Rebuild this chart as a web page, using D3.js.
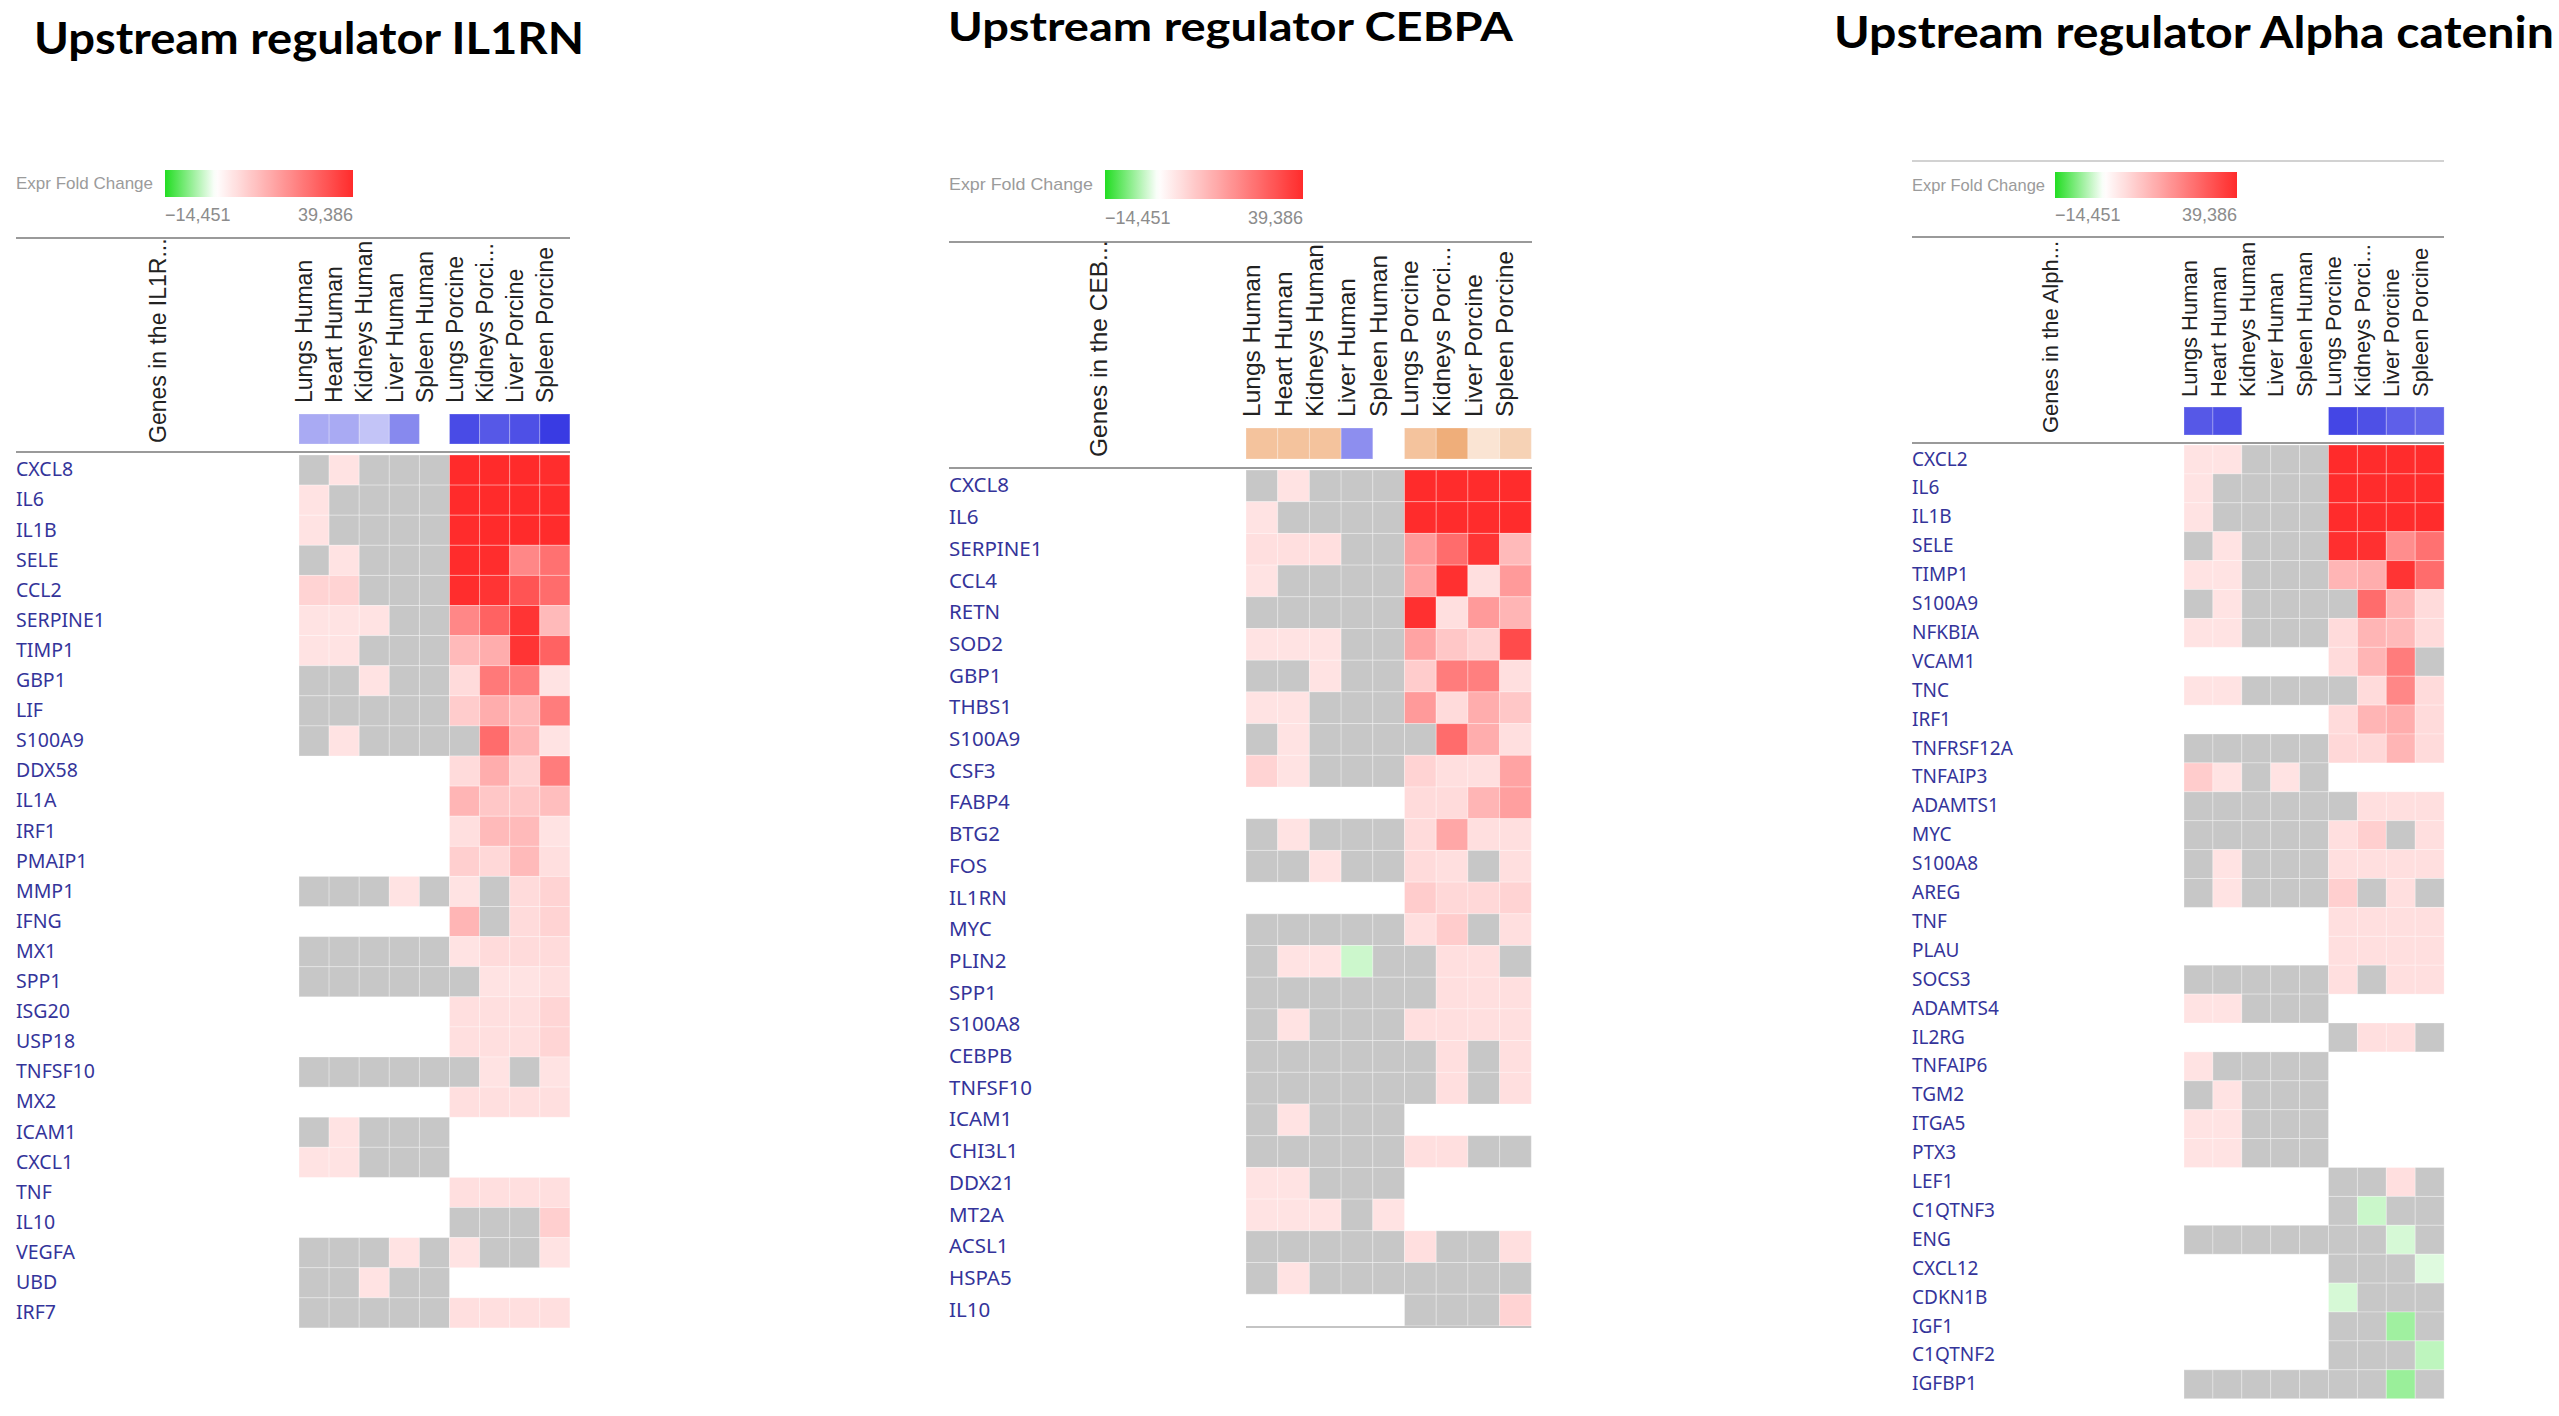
<!DOCTYPE html>
<html>
<head>
<meta charset="utf-8">
<script src="https://cdn.jsdelivr.net/npm/d3@7"></script>
<style>
  body { margin: 0; background: #fff; }
  svg { display: block; }
</style>
</head>
<body>
<svg id="chart" width="2559" height="1416"></svg>
<script>
// columns shared by the three heatmaps
const tissues = ["Lungs Human", "Heart Human", "Kidneys Human", "Liver Human", "Spleen Human",
  "Lungs Porcine", "Kidneys Porci...", "Liver Porcine", "Spleen Porcine"];

const foldMin = -14451, foldMax = 39386;
const n = null; // gene not in that dataset (blank); 0 = measured, no change (gray)

// --- Upstream regulator IL1RN ---
const il1rnGenes = ["CXCL8", "IL6", "IL1B", "SELE", "CCL2", "SERPINE1", "TIMP1", "GBP1", "LIF", "S100A9",
  "DDX58", "IL1A", "IRF1", "PMAIP1", "MMP1", "IFNG", "MX1", "SPP1", "ISG20", "USP18", "TNFSF10", "MX2",
  "ICAM1", "CXCL1", "TNF", "IL10", "VEGFA", "UBD", "IRF7"];
const il1rnValues = [
  [0, 3, 0, 0, 0, 39000, 39000, 39000, 36000],
  [3, 0, 0, 0, 0, 39000, 39000, 39000, 38000],
  [3, 0, 0, 0, 0, 38000, 39000, 39000, 37000],
  [0, 3, 0, 0, 0, 37000, 36000, 400, 1200],
  [8, 8, 0, 0, 0, 35000, 25000, 5000, 1500],
  [3, 3, 3, 0, 0, 400, 2500, 25000, 30],
  [3, 3, 0, 0, 0, 30, 60, 25000, 2500],
  [0, 0, 3, 0, 0, 5, 800, 700, 3],
  [0, 0, 0, 0, 0, 12, 60, 30, 700],
  [0, 3, 0, 0, 0, 0, 1500, 40, 3],
  [n, n, n, n, n, 5, 60, 8, 700],
  [n, n, n, n, n, 40, 15, 15, 25],
  [n, n, n, n, n, 4, 30, 30, 3],
  [n, n, n, n, n, 10, 6, 30, 4],
  [0, 0, 0, 3, 0, 3, 0, 5, 8],
  [n, n, n, n, n, 40, 0, 5, 8],
  [0, 0, 0, 0, 0, 3, 5, 5, 5],
  [0, 0, 0, 0, 0, 0, 3, 3, 4],
  [n, n, n, n, n, 4, 4, 4, 7],
  [n, n, n, n, n, 4, 4, 4, 7],
  [0, 0, 0, 0, 0, 0, 3, 0, 3],
  [n, n, n, n, n, 4, 4, 4, 4],
  [0, 3, 0, 0, 0, n, n, n, n],
  [3, 3, 0, 0, 0, n, n, n, n],
  [n, n, n, n, n, 4, 4, 4, 4],
  [n, n, n, n, n, 0, 0, 0, 10],
  [0, 0, 0, 3, 0, 3, 0, 0, 3],
  [0, 0, 3, 0, 0, n, n, n, n],
  [0, 0, 0, 0, 0, 4, 4, 4, 4]
];
const il1rnZ = [-1.65, -1.65, -1.15, -2.3, n, -3.5, -3.25, -3.4, -3.8];

// --- Upstream regulator CEBPA ---
const cebpaGenes = ["CXCL8", "IL6", "SERPINE1", "CCL4", "RETN", "SOD2", "GBP1", "THBS1", "S100A9", "CSF3",
  "FABP4", "BTG2", "FOS", "IL1RN", "MYC", "PLIN2", "SPP1", "S100A8", "CEBPB", "TNFSF10", "ICAM1", "CHI3L1",
  "DDX21", "MT2A", "ACSL1", "HSPA5", "IL10"];
const cebpaValues = [
  [0, 3, 0, 0, 0, 39000, 38000, 38000, 37000],
  [3, 0, 0, 0, 0, 38000, 38000, 38000, 37000],
  [4, 4, 4, 0, 0, 150, 1500, 25000, 30],
  [3, 0, 0, 0, 0, 100, 30000, 4, 150],
  [0, 0, 0, 0, 0, 30000, 4, 150, 40],
  [3, 3, 3, 0, 0, 100, 15, 8, 8000],
  [0, 0, 3, 0, 0, 12, 700, 600, 4],
  [3, 3, 0, 0, 0, 150, 5, 60, 15],
  [0, 3, 0, 0, 0, 0, 1500, 60, 4],
  [8, 3, 0, 0, 0, 8, 4, 4, 100],
  [n, n, n, n, n, 5, 5, 40, 120],
  [0, 3, 0, 0, 0, 5, 80, 4, 4],
  [0, 0, 3, 0, 0, 5, 4, 0, 4],
  [n, n, n, n, n, 12, 6, 6, 8],
  [0, 0, 0, 0, 0, 4, 12, 0, 4],
  [0, 3, 3, -8, 0, 0, 4, 4, 0],
  [0, 0, 0, 0, 0, 0, 4, 4, 4],
  [0, 3, 0, 0, 0, 4, 4, 4, 4],
  [0, 0, 0, 0, 0, 0, 4, 0, 4],
  [0, 0, 0, 0, 0, 0, 4, 0, 4],
  [0, 3, 0, 0, 0, n, n, n, n],
  [0, 0, 0, 0, 0, 4, 4, 0, 0],
  [3, 3, 0, 0, 0, n, n, n, n],
  [3, 3, 3, 0, 3, n, n, n, n],
  [0, 0, 0, 0, 0, 4, 0, 0, 4],
  [0, 3, 0, 0, 0, 0, 0, 0, 0],
  [n, n, n, n, n, 0, 0, 0, 8]
];
const cebpaZ = [2.0, 2.0, 2.0, -2.2, n, 2.0, 2.7, 0.9, 1.5];

// --- Upstream regulator Alpha catenin ---
const catGenes = ["CXCL2", "IL6", "IL1B", "SELE", "TIMP1", "S100A9", "NFKBIA", "VCAM1", "TNC", "IRF1",
  "TNFRSF12A", "TNFAIP3", "ADAMTS1", "MYC", "S100A8", "AREG", "TNF", "PLAU", "SOCS3", "ADAMTS4", "IL2RG",
  "TNFAIP6", "TGM2", "ITGA5", "PTX3", "LEF1", "C1QTNF3", "ENG", "CXCL12", "CDKN1B", "IGF1", "C1QTNF2", "IGFBP1"];
const catValues = [
  [3, 3, 0, 0, 0, 39000, 38000, 38000, 38000],
  [3, 0, 0, 0, 0, 38000, 38000, 38000, 37000],
  [3, 0, 0, 0, 0, 38000, 38000, 38000, 37000],
  [0, 3, 0, 0, 0, 32000, 30000, 300, 1200],
  [3, 3, 0, 0, 0, 40, 60, 25000, 1500],
  [0, 3, 0, 0, 0, 0, 1500, 40, 5],
  [3, 3, 0, 0, 0, 5, 40, 30, 5],
  [n, n, n, n, n, 5, 40, 700, 0],
  [3, 3, 0, 0, 0, 0, 5, 400, 5],
  [n, n, n, n, n, 5, 40, 60, 5],
  [0, 0, 0, 0, 0, 6, 6, 40, 5],
  [12, 3, 0, 3, 0, n, n, n, n],
  [0, 0, 0, 0, 0, 0, 4, 4, 4],
  [0, 0, 0, 0, 0, 4, 10, 0, 4],
  [0, 3, 0, 0, 0, 4, 4, 4, 4],
  [0, 3, 0, 0, 0, 10, 0, 4, 0],
  [n, n, n, n, n, 4, 4, 4, 4],
  [n, n, n, n, n, 4, 4, 4, 4],
  [0, 0, 0, 0, 0, 4, 0, 4, 4],
  [3, 3, 0, 0, 0, n, n, n, n],
  [n, n, n, n, n, 0, 4, 4, 0],
  [3, 0, 0, 0, 0, n, n, n, n],
  [0, 3, 0, 0, 0, n, n, n, n],
  [3, 3, 0, 0, 0, n, n, n, n],
  [3, 3, 0, 0, 0, n, n, n, n],
  [n, n, n, n, n, 0, 0, 4, 0],
  [n, n, n, n, n, 0, -9, 0, 0],
  [0, 0, 0, 0, 0, 0, 0, -5, 0],
  [n, n, n, n, n, 0, 0, 0, -3],
  [n, n, n, n, n, -5, 0, 0, 0],
  [n, n, n, n, n, 0, 0, -60, 0],
  [n, n, n, n, n, 0, 0, 0, -16],
  [0, 0, 0, 0, 0, 0, 0, -80, 0]
];
const catZ = [-3.25, -3.4, n, n, n, -3.6, -3.4, -3.1, -3.0];

// colours
const GREEN = "#22dd22", RED = "#ff2b2b", GRAY = "#c7c7c7";
const foldColor = d3.scaleSymlog().domain([foldMin, 0, foldMax]).range([GREEN, "#ffffff", RED]).clamp(true);
const legendColor = d3.scaleLinear().domain([foldMin, 0, foldMax]).range([GREEN, "#ffffff", RED]);
const zColor = d3.scaleLinear().domain([-4, 0, 4]).range(["#2f31e2", "#ffffff", "#e8873a"]).clamp(true);

const panels = [
  { title: "Upstream regulator IL1RN", header: "Genes in the IL1R...", genes: il1rnGenes, values: il1rnValues, z: il1rnZ,
    left: 16, right: 570, cellX: 299, cell: 30.1, rowY: 455, annY: 414, annH: 30,
    lines: [238, 452], legY: 170, legH: 27, legX0: 165, legX1: 353, legTextW: 137, numY: 215,
    titleX: 34, titleY: 54, titleW: 550, titleSize: 44, colY: 403, headX: 166, headY: 443,
    headSize: 23, geneSize: 19.5 },
  { title: "Upstream regulator CEBPA", header: "Genes in the CEB...", genes: cebpaGenes, values: cebpaValues, z: cebpaZ,
    left: 949, right: 1532, cellX: 1246, cell: 31.7, rowY: 470, annY: 428, annH: 31,
    lines: [242, 468], legY: 170, legH: 29, legX0: 1105, legX1: 1303, legTextW: 144, numY: 218,
    titleX: 948, titleY: 41, titleW: 565, titleSize: 41, colY: 417, headX: 1107, headY: 457,
    headSize: 24.5, geneSize: 20.5, bottomLine: true },
  { title: "Upstream regulator Alpha catenin", header: "Genes in the Alph...", genes: catGenes, values: catValues, z: catZ,
    left: 1912, right: 2444, cellX: 2184, cell: 28.9, rowY: 445, annY: 407, annH: 28,
    lines: [237, 443], topLine: 161, legY: 172, legH: 26, legX0: 2055, legX1: 2237, legTextW: 133, numY: 215,
    titleX: 1834, titleY: 48, titleW: 720, titleSize: 44, colY: 397, headX: 2058, headY: 433,
    headSize: 22, geneSize: 19 }
];

const svg = d3.select("#chart");
svg.append("rect").attr("width", 2559).attr("height", 1416).attr("fill", "#fff");

// legend gradient, linear in fold change
const grad = svg.append("defs").append("linearGradient").attr("id", "foldGrad");
grad.selectAll("stop")
  .data(d3.range(0, 1.0001, 0.02))
  .join("stop")
  .attr("offset", d => d)
  .attr("stop-color", d => legendColor(foldMin + d * (foldMax - foldMin)));

const ARIAL = "'Liberation Sans', Arial, sans-serif";

panels.forEach(p => {
  const g = svg.append("g");

  const x = d3.scaleBand().domain(tissues).range([p.cellX, p.cellX + tissues.length * p.cell]);
  const y = d3.scaleBand().domain(p.genes).range([p.rowY, p.rowY + p.genes.length * p.cell]);

  // title
  g.append("text")
    .attr("x", p.titleX).attr("y", p.titleY)
    .attr("font-family", "Lato, 'Open Sans', sans-serif")
    .attr("font-weight", 700)
    .attr("font-size", p.titleSize)
    .attr("textLength", p.titleW)
    .attr("lengthAdjust", "spacingAndGlyphs")
    .attr("fill", "#000")
    .text(p.title);

  // rules
  if (p.topLine) {
    g.append("line").attr("x1", p.left).attr("x2", p.right).attr("y1", p.topLine).attr("y2", p.topLine)
      .attr("stroke", "#d2d2d2").attr("stroke-width", 2);
  }
  p.lines.forEach(ly => {
    g.append("line").attr("x1", p.left).attr("x2", p.right).attr("y1", ly).attr("y2", ly)
      .attr("stroke", "#9a9a9a").attr("stroke-width", 2);
  });

  // legend
  g.append("text")
    .attr("x", p.left).attr("y", p.legY + p.legH / 2)
    .attr("dy", "0.35em")
    .attr("font-family", ARIAL).attr("font-size", 17)
    .attr("textLength", p.legTextW).attr("lengthAdjust", "spacingAndGlyphs")
    .attr("fill", "#9b9b9b")
    .text("Expr Fold Change");
  g.append("rect")
    .attr("x", p.legX0).attr("y", p.legY)
    .attr("width", p.legX1 - p.legX0).attr("height", p.legH)
    .attr("fill", "url(#foldGrad)");
  g.append("text")
    .attr("x", p.legX0).attr("y", p.numY).attr("dy", "0.35em")
    .attr("font-family", ARIAL).attr("font-size", 18).attr("fill", "#8c8c8c")
    .text("\u2212" + d3.format(",")(-foldMin));
  g.append("text")
    .attr("x", p.legX1).attr("y", p.numY).attr("dy", "0.35em")
    .attr("text-anchor", "end")
    .attr("font-family", ARIAL).attr("font-size", 18).attr("fill", "#8c8c8c")
    .text(d3.format(",")(foldMax));

  // row header
  g.append("text")
    .attr("transform", `translate(${p.headX},${p.headY}) rotate(-90)`)
    .attr("font-family", ARIAL).attr("font-size", p.headSize).attr("fill", "#222")
    .text(p.header);

  // column labels
  g.append("g")
    .attr("transform", `translate(0,${p.colY})`)
    .call(d3.axisBottom(x).tickSize(0).tickPadding(0))
    .call(a => a.select(".domain").remove())
    .selectAll("text")
    .attr("transform", "rotate(-90)")
    .attr("x", 0).attr("y", 0).attr("dy", "-0.08em")
    .attr("text-anchor", "start")
    .attr("font-family", ARIAL).attr("font-size", p.headSize)
    .attr("fill", "#222");

  // activation z-score row
  g.append("g").selectAll("rect")
    .data(tissues.map((t, j) => ({ t, z: p.z[j] })).filter(d => d.z !== null))
    .join("rect")
    .attr("x", d => x(d.t)).attr("y", p.annY)
    .attr("width", x.bandwidth()).attr("height", p.annH)
    .attr("fill", d => zColor(d.z))
    .attr("stroke", "rgba(255,255,255,0.25)").attr("stroke-width", 1);

  // gene labels
  g.append("g")
    .attr("transform", `translate(${p.left},0)`)
    .call(d3.axisRight(y).tickSize(0).tickPadding(0))
    .call(a => a.select(".domain").remove())
    .selectAll("text")
    .attr("font-family", "'Noto Sans', 'Open Sans', sans-serif")
    .attr("font-size", p.geneSize)
    .attr("fill", "#34349a");

  // heatmap cells
  const cells = p.genes.flatMap((gene, i) => p.values[i].map((v, j) => ({ gene, tissue: tissues[j], v })));
  g.append("g").selectAll("rect")
    .data(cells.filter(d => d.v !== null))
    .join("rect")
    .attr("x", d => x(d.tissue)).attr("y", d => y(d.gene))
    .attr("width", x.bandwidth()).attr("height", y.bandwidth())
    .attr("fill", d => d.v === 0 ? GRAY : foldColor(d.v))
    .attr("stroke", "rgba(255,255,255,0.3)").attr("stroke-width", 1);

  if (p.bottomLine) {
    const yb = y.range()[1] + 1;
    g.append("line").attr("x1", x.range()[0]).attr("x2", x.range()[1]).attr("y1", yb).attr("y2", yb)
      .attr("stroke", "#c4c4c4").attr("stroke-width", 2);
  }
});
</script>
</body>
</html>
